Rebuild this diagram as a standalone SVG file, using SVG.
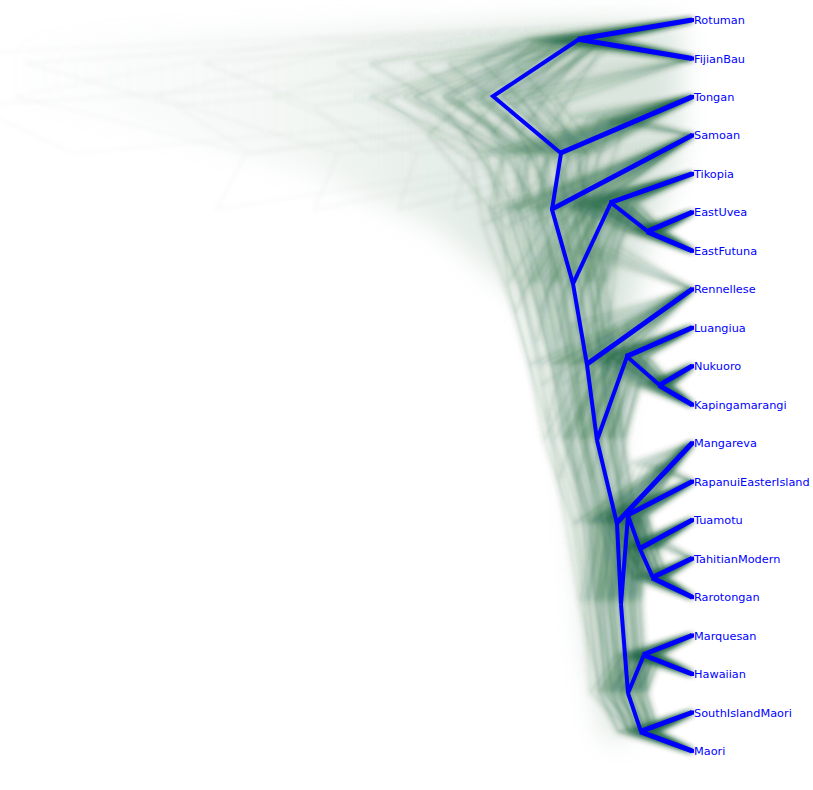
<svg xmlns="http://www.w3.org/2000/svg" xmlns:xlink="http://www.w3.org/1999/xlink" width="813" height="790" viewBox="0 0 813 790">
<style>
.lbl{font-family:"DejaVu Sans","Liberation Sans",sans-serif;font-size:11.3px;fill:#0000ff}
.tip{fill:#0000ff}
.cl{fill:none;stroke:#0d5530;stroke-width:1.6;stroke-linejoin:round}
.int{fill:none;stroke:#0000ff;stroke-width:4;stroke-linejoin:miter}
.term{fill:none;stroke:#0000ff;stroke-width:5;stroke-linecap:butt}
.a{opacity:0.15}.b{opacity:0.14}.c{opacity:0.125}.d{opacity:0.11}
</style>
<defs>
<filter id="soft" x="-10%" y="-5%" width="120%" height="110%">
<feGaussianBlur in="SourceGraphic" stdDeviation="3" result="b"/>
<feGaussianBlur in="SourceGraphic" stdDeviation="0.8" result="s0"/>
<feColorMatrix in="s0" type="matrix" values="1 0 0 0 0 0 1 0 0 0 0 0 1 0 0 0 0 0 0.55 0" result="s"/>
<feMerge><feMergeNode in="b"/><feMergeNode in="b"/><feMergeNode in="s"/></feMerge>
</filter>
<filter id="far" x="-10%" y="-20%" width="120%" height="140%"><feGaussianBlur stdDeviation="2.2"/></filter>
<filter id="haze" x="-20%" y="-20%" width="140%" height="140%"><feGaussianBlur stdDeviation="14"/></filter>
<linearGradient id="hg" gradientUnits="userSpaceOnUse" x1="0" y1="0" x2="560" y2="0">
<stop offset="0" stop-color="#8fb39c" stop-opacity="0"/>
<stop offset="0.55" stop-color="#8fb39c" stop-opacity="0.35"/>
<stop offset="1" stop-color="#8fb39c" stop-opacity="1"/>
</linearGradient>
<path id="t0" vector-effect="non-scaling-stroke" d="M493,96.25L579,39.25L692,20M579,39.25L692,58.5M493,96.25L561,153.25L692,96.9M561,153.25L552,209.6L692,135.4M552,209.6L573,283.75L611,202.75L692,173.9M611,202.75L648,231.6L692,212.4M648,231.6L692,250.8M573,283.75L587,364.75L692,289.3M587,364.75L597,440.2L627,356.6L692,327.8M627,356.6L660,385.45L692,366.2M660,385.45L692,404.7M597,440.2L617,523.7L692,443.2M617,523.7L621,604.25L628,515.3L692,481.6M628,515.3L640,549L692,520.1M640,549L653,577.85L692,558.6M653,577.85L692,597.1M621,604.25L628,693.2L644,654.75L692,635.5M644,654.75L692,674M628,693.2L641,731.7L692,712.5M641,731.7L692,750.9"/>
<path id="t1" vector-effect="non-scaling-stroke" d="M470,96.25L590,39.25L692,20M590,39.25L692,58.5M470,96.25L550,153.25L692,96.9M550,153.25L560,209.6L692,135.4M560,209.6L565,283.75L600,202.75L692,173.9M600,202.75L655,231.6L692,212.4M655,231.6L692,250.8M565,283.75L580,364.75L692,289.3M580,364.75L590,440.2L620,356.6L692,327.8M620,356.6L652,385.45L692,366.2M652,385.45L692,404.7M590,440.2L610,523.7L692,443.2M610,523.7L618,604.25L632,515.3L692,481.6M632,515.3L645,549L692,520.1M645,549L650,577.85L692,558.6M650,577.85L692,597.1M618,604.25L622,693.2L640,654.75L692,635.5M640,654.75L692,674M622,693.2L650,731.7L692,712.5M650,731.7L692,750.9"/>
<path id="t2" vector-effect="non-scaling-stroke" d="M520,96.25L600,39.25L692,20M600,39.25L692,58.5M520,96.25L575,153.25L692,96.9M575,153.25L568,209.6L692,135.4M568,209.6L585,283.75L620,202.75L692,173.9M620,202.75L660,231.6L692,212.4M660,231.6L692,250.8M585,283.75L598,364.75L692,289.3M598,364.75L606,440.2L638,356.6L692,327.8M638,356.6L668,385.45L692,366.2M668,385.45L692,404.7M606,440.2L622,523.7L692,443.2M622,523.7L626,604.25L634,515.3L692,481.6M634,515.3L648,549L692,520.1M648,549L662,577.85L692,558.6M662,577.85L692,597.1M626,604.25L633,693.2L655,654.75L692,635.5M655,654.75L692,674M633,693.2L652,731.7L692,712.5M652,731.7L692,750.9"/>
<path id="t3" vector-effect="non-scaling-stroke" d="M510,134.4L585,39.25L692,20M585,39.25L692,58.5M510,134.4L565,229.6L610,116.15L692,96.9M610,116.15L692,135.4M565,229.6L585,343.1L600,246L625,202.75L692,173.9M625,202.75L655,231.6L692,212.4M655,231.6L692,250.8M600,246L692,289.3M585,343.1L603,440.2L635,356.6L692,327.8M635,356.6L665,385.45L692,366.2M665,385.45L692,404.7M603,440.2L620,523.7L692,443.2M620,523.7L626,604.25L636,515.3L692,481.6M636,515.3L648,549L692,520.1M648,549L660,577.85L692,558.6M660,577.85L692,597.1M626,604.25L634,693.2L650,654.75L692,635.5M650,654.75L692,674M634,693.2L648,731.7L692,712.5M648,731.7L692,750.9"/>
<path id="t4" vector-effect="non-scaling-stroke" d="M470,62.95L692,20M470,62.95L520,105.9L692,58.5M520,105.9L545,153.25L692,96.9M545,153.25L565,209.6L692,135.4M565,209.6L581,283.75L619,202.75L692,173.9M619,202.75L656,231.6L692,212.4M656,231.6L692,250.8M581,283.75L595,364.75L692,289.3M595,364.75L605,440.2L635,356.6L692,327.8M635,356.6L668,385.45L692,366.2M668,385.45L692,404.7M605,440.2L625,523.7L692,443.2M625,523.7L629,604.25L636,515.3L692,481.6M636,515.3L648,549L692,520.1M648,549L661,577.85L692,558.6M661,577.85L692,597.1M629,604.25L636,693.2L652,654.75L692,635.5M652,654.75L692,674M636,693.2L649,731.7L692,712.5M649,731.7L692,750.9"/>
<path id="t5" vector-effect="non-scaling-stroke" d="M480,99.9L575,39.25L692,20M575,39.25L692,58.5M480,99.9L540,160.55L692,96.9M540,160.55L548,224.2L692,135.4M548,224.2L570,313L605,202.75L692,173.9M605,202.75L645,231.6L692,212.4M645,231.6L692,250.8M570,313L592,423.3L610,322.95L692,289.3M610,322.95L625,356.6L692,327.8M625,356.6L655,385.45L692,366.2M655,385.45L692,404.7M592,423.3L612,523.7L692,443.2M612,523.7L621,604.25L628,515.3L692,481.6M628,515.3L640,549L692,520.1M640,549L653,577.85L692,558.6M653,577.85L692,597.1M621,604.25L628,693.2L644,654.75L692,635.5M644,654.75L692,674M628,693.2L641,731.7L692,712.5M641,731.7L692,750.9"/>
<path id="t6" vector-effect="non-scaling-stroke" d="M500,97.5L580,39.25L692,20M580,39.25L692,58.5M500,97.5L562,155.75L692,96.9M562,155.75L555,214.6L692,135.4M555,214.6L575,293.8L612,202.75L692,173.9M612,202.75L648,231.6L692,212.4M648,231.6L692,250.8M575,293.8L588,384.85L692,289.3M588,384.85L600,480.4L628,356.6L692,327.8M628,356.6L660,385.45L692,366.2M660,385.45L692,404.7M600,480.4L615,604.25L625,515.3L650,462.4L692,443.2M650,462.4L692,481.6M625,515.3L640,568.2L655,539.35L692,520.1M655,539.35L692,558.6M640,568.2L692,597.1M615,604.25L630,693.2L645,654.75L692,635.5M645,654.75L692,674M630,693.2L642,731.7L692,712.5M642,731.7L692,750.9"/>
<path id="d0" vector-effect="non-scaling-stroke" d="M493,96.25L579,39.25L692,20M579,39.25L692,58.5M493,96.25L561,153.25L692,96.9M561,153.25L552,209.6L692,135.4"/>
<path id="d4" vector-effect="non-scaling-stroke" d="M470,62.95L692,20M470,62.95L520,105.9L692,58.5M520,105.9L545,153.25L692,96.9"/>
</defs>
<rect width="813" height="790" fill="#ffffff"/>
<g id="haze" filter="url(#haze)" opacity="0.32">
<polygon fill="url(#hg)" points="0,40 200,32 450,26 600,22 680,24 680,150 645,250 625,350 615,450 616,550 620,650 628,735 606,742 588,650 575,500 560,380 525,300 440,230 300,170 150,130 0,100"/>
</g>
<g id="farlines" class="cl" filter="url(#far)" stroke-width="2">
<use xlink:href="#d0" transform="matrix(1.7,0,0,1,-484.4,0)" opacity="0.07"/>
<use xlink:href="#d0" transform="matrix(2.1,0,0,1,-761.2,0)" opacity="0.055"/>
<use xlink:href="#d0" transform="matrix(2.7,0,0,1,-1176.4,0)" opacity="0.045"/>
<use xlink:href="#d0" transform="matrix(3.4,0,0,1,-1660.8,0)" opacity="0.035"/>
<use xlink:href="#d4" transform="matrix(1.6,0,0,1,-415.2,0)" opacity="0.07"/>
<use xlink:href="#d4" transform="matrix(2.2,0,0,1,-830.4,0)" opacity="0.055"/>
<use xlink:href="#d4" transform="matrix(3,0,0,1,-1384,0)" opacity="0.045"/>
<use xlink:href="#d4" transform="matrix(4.2,0,0,1,-2214.4,0)" opacity="0.035"/>
</g>
<g id="cloud" class="cl" filter="url(#soft)">
<use xlink:href="#t0" class="a" transform="matrix(0.8,0,0,1,138.4,0)"/>
<use xlink:href="#t0" class="a" transform="matrix(0.95,0,0,1,34.6,0)"/>
<use xlink:href="#t0" class="a" transform="matrix(1.1,0,0,1,-69.2,0)"/>
<use xlink:href="#t0" class="b" transform="matrix(1.25,0,0,1,-173,0)"/>
<use xlink:href="#t0" class="c" transform="matrix(1.45,0,0,1,-311.4,0)"/>
<use xlink:href="#t1" class="a" transform="matrix(0.8,0,0,1,138.4,0)"/>
<use xlink:href="#t1" class="a" transform="matrix(0.95,0,0,1,34.6,0)"/>
<use xlink:href="#t1" class="a" transform="matrix(1.1,0,0,1,-69.2,0)"/>
<use xlink:href="#t1" class="b" transform="matrix(1.25,0,0,1,-173,0)"/>
<use xlink:href="#t1" class="c" transform="matrix(1.45,0,0,1,-311.4,0)"/>
<use xlink:href="#t2" class="a" transform="matrix(0.8,0,0,1,138.4,0)"/>
<use xlink:href="#t2" class="a" transform="matrix(0.95,0,0,1,34.6,0)"/>
<use xlink:href="#t2" class="a" transform="matrix(1.1,0,0,1,-69.2,0)"/>
<use xlink:href="#t2" class="b" transform="matrix(1.25,0,0,1,-173,0)"/>
<use xlink:href="#t2" class="c" transform="matrix(1.45,0,0,1,-311.4,0)"/>
<use xlink:href="#t3" class="b" transform="matrix(0.8,0,0,1,138.4,0)"/>
<use xlink:href="#t3" class="b" transform="matrix(0.95,0,0,1,34.6,0)"/>
<use xlink:href="#t3" class="b" transform="matrix(1.1,0,0,1,-69.2,0)"/>
<use xlink:href="#t3" class="c" transform="matrix(1.25,0,0,1,-173,0)"/>
<use xlink:href="#t3" class="d" transform="matrix(1.45,0,0,1,-311.4,0)"/>
<use xlink:href="#t4" class="b" transform="matrix(0.8,0,0,1,138.4,0)"/>
<use xlink:href="#t4" class="b" transform="matrix(0.95,0,0,1,34.6,0)"/>
<use xlink:href="#t4" class="b" transform="matrix(1.1,0,0,1,-69.2,0)"/>
<use xlink:href="#t4" class="c" transform="matrix(1.25,0,0,1,-173,0)"/>
<use xlink:href="#t4" class="d" transform="matrix(1.45,0,0,1,-311.4,0)"/>
<use xlink:href="#t5" class="b" transform="matrix(0.8,0,0,1,138.4,0)"/>
<use xlink:href="#t5" class="b" transform="matrix(0.95,0,0,1,34.6,0)"/>
<use xlink:href="#t5" class="b" transform="matrix(1.1,0,0,1,-69.2,0)"/>
<use xlink:href="#t5" class="c" transform="matrix(1.25,0,0,1,-173,0)"/>
<use xlink:href="#t5" class="d" transform="matrix(1.45,0,0,1,-311.4,0)"/>
<use xlink:href="#t6" class="b" transform="matrix(0.8,0,0,1,138.4,0)"/>
<use xlink:href="#t6" class="b" transform="matrix(0.95,0,0,1,34.6,0)"/>
<use xlink:href="#t6" class="b" transform="matrix(1.1,0,0,1,-69.2,0)"/>
<use xlink:href="#t6" class="c" transform="matrix(1.25,0,0,1,-173,0)"/>
<use xlink:href="#t6" class="d" transform="matrix(1.45,0,0,1,-311.4,0)"/>
</g>
<g id="connectors">
<path class="int" d="M579,39.25L493,96.25L561,153.25L552,209.6L573,283.75L611,202.75L648,231.6M573,283.75L587,364.75L597,440.2L627,356.6L660,385.45M597,440.2L617,523.7L621,604.25L628,515.3L640,549L653,577.85M621,604.25L628,693.2L644,654.75M628,693.2L641,731.7"/>
<path class="term" d="M578,39.25L692,20M578,39.25L692,58.5M560,153.25L692,96.9M551,209.6L692,135.4M610,202.75L692,173.9M647,231.6L692,212.4M647,231.6L692,250.8M586,364.75L692,289.3M626,356.6L692,327.8M659,385.45L692,366.2M659,385.45L692,404.7M616,523.7L692,443.2M627,515.3L692,481.6M639,549L692,520.1M652,577.85L692,558.6M652,577.85L692,597.1M643,654.75L692,635.5M643,654.75L692,674M640,731.7L692,712.5M640,731.7L692,750.9"/>
</g>
<g id="Rotuman"><rect class="tip" x="690" y="18" width="4" height="4"/><text class="lbl" x="694" y="24">Rotuman</text></g>
<g id="FijianBau"><rect class="tip" x="690" y="56.5" width="4" height="4"/><text class="lbl" x="694" y="62.5">FijianBau</text></g>
<g id="Tongan"><rect class="tip" x="690" y="94.9" width="4" height="4"/><text class="lbl" x="694" y="100.9">Tongan</text></g>
<g id="Samoan"><rect class="tip" x="690" y="133.4" width="4" height="4"/><text class="lbl" x="694" y="139.4">Samoan</text></g>
<g id="Tikopia"><rect class="tip" x="690" y="171.9" width="4" height="4"/><text class="lbl" x="694" y="177.9">Tikopia</text></g>
<g id="EastUvea"><rect class="tip" x="690" y="210.4" width="4" height="4"/><text class="lbl" x="694" y="216.4">EastUvea</text></g>
<g id="EastFutuna"><rect class="tip" x="690" y="248.8" width="4" height="4"/><text class="lbl" x="694" y="254.8">EastFutuna</text></g>
<g id="Rennellese"><rect class="tip" x="690" y="287.3" width="4" height="4"/><text class="lbl" x="694" y="293.3">Rennellese</text></g>
<g id="Luangiua"><rect class="tip" x="690" y="325.8" width="4" height="4"/><text class="lbl" x="694" y="331.8">Luangiua</text></g>
<g id="Nukuoro"><rect class="tip" x="690" y="364.2" width="4" height="4"/><text class="lbl" x="694" y="370.2">Nukuoro</text></g>
<g id="Kapingamarangi"><rect class="tip" x="690" y="402.7" width="4" height="4"/><text class="lbl" x="694" y="408.7">Kapingamarangi</text></g>
<g id="Mangareva"><rect class="tip" x="690" y="441.2" width="4" height="4"/><text class="lbl" x="694" y="447.2">Mangareva</text></g>
<g id="RapanuiEasterIsland"><rect class="tip" x="690" y="479.6" width="4" height="4"/><text class="lbl" x="694" y="485.6">RapanuiEasterIsland</text></g>
<g id="Tuamotu"><rect class="tip" x="690" y="518.1" width="4" height="4"/><text class="lbl" x="694" y="524.1">Tuamotu</text></g>
<g id="TahitianModern"><rect class="tip" x="690" y="556.6" width="4" height="4"/><text class="lbl" x="694" y="562.6">TahitianModern</text></g>
<g id="Rarotongan"><rect class="tip" x="690" y="595.1" width="4" height="4"/><text class="lbl" x="694" y="601.1">Rarotongan</text></g>
<g id="Marquesan"><rect class="tip" x="690" y="633.5" width="4" height="4"/><text class="lbl" x="694" y="639.5">Marquesan</text></g>
<g id="Hawaiian"><rect class="tip" x="690" y="672" width="4" height="4"/><text class="lbl" x="694" y="678">Hawaiian</text></g>
<g id="SouthIslandMaori"><rect class="tip" x="690" y="710.5" width="4" height="4"/><text class="lbl" x="694" y="716.5">SouthIslandMaori</text></g>
<g id="Maori"><rect class="tip" x="690" y="748.9" width="4" height="4"/><text class="lbl" x="694" y="754.9">Maori</text></g>
</svg>
